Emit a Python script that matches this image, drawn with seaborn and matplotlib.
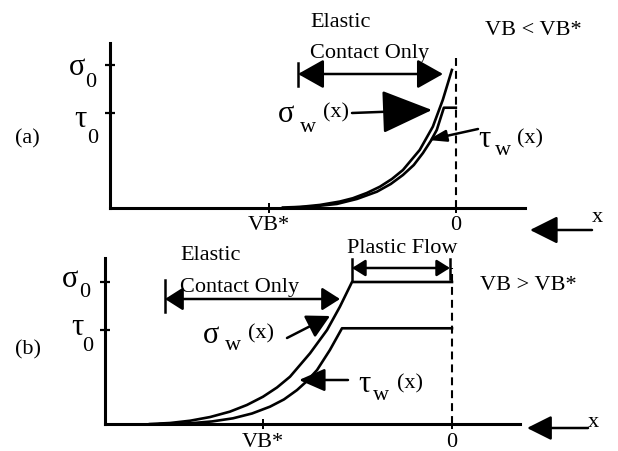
import numpy as np
import pandas as pd
import seaborn as sns
import matplotlib.pyplot as plt
from matplotlib.lines import Line2D

# x in units of VB* (0 = tool tip), y in units of sigma0
# (a) VB < VB*
a_sig_x = [-0.925, -0.834, -0.727, -0.620, -0.551, -0.476, -0.406, -0.342, -0.283, -0.193, -0.123, -0.070, -0.021]
a_sig_y = [0.0, 0.004, 0.018, 0.042, 0.065, 0.102, 0.146, 0.200, 0.263, 0.404, 0.567, 0.754, 0.965]
a_tau_x = [-0.888, -0.781, -0.636, -0.529, -0.422, -0.348, -0.283, -0.225, -0.176, -0.134, -0.102, -0.064, 0.0]
a_tau_y = [0.0, 0.005, 0.025, 0.060, 0.111, 0.165, 0.228, 0.298, 0.382, 0.467, 0.544, 0.700, 0.700]

# (b) VB > VB*  -- elastic part then plastic plateau
b_sig_x = [-1.598, -1.492, -1.386, -1.280, -1.175, -1.085, -1.0, -0.926, -0.857, -0.751, -0.661, -0.593, -0.529, 0.0]
b_sig_y = [0.0, 0.007, 0.023, 0.049, 0.087, 0.134, 0.192, 0.257, 0.333, 0.498, 0.662, 0.826, 1.0, 1.0]
b_tau_x = [-1.545, -1.386, -1.270, -1.159, -1.058, -0.963, -0.889, -0.820, -0.767, -0.714, -0.646, -0.582, 0.0]
b_tau_y = [0.0, 0.005, 0.018, 0.040, 0.074, 0.122, 0.173, 0.239, 0.303, 0.380, 0.521, 0.674, 0.674]

sigma0 = 1.0
tau0 = 0.665
x_ticks = [-1.0, 0.0]
x_labels = ["VB*", "0"]

W, H = 618, 451
plt.rcParams['font.family'] = ['Liberation Serif', 'DejaVu Serif']
fig = plt.figure(figsize=(W / 100, H / 100), dpi=100)

def fp(px, py):
    return (px / W, 1 - py / H)

def put(s, px, py, size=16):
    fig.text(px / W, 1 - py / H, s, fontsize=size, ha='left', va='baseline')

def arrow(ax, tail, tip, style='-|>', hl=1.5, hw=0.7, lw=1.8):
    ax.annotate("", xy=fp(*tip), xytext=fp(*tail), xycoords='figure fraction',
                textcoords='figure fraction',
                arrowprops=dict(arrowstyle=f"{style},head_length={hl},head_width={hw}",
                                color='black', lw=lw, shrinkA=0, shrinkB=0,
                                mutation_scale=10))

def bar(px, py0, py1, lw=1.8):
    fig.add_artist(Line2D([px / W, px / W], [1 - py0 / H, 1 - py1 / H],
                          transform=fig.transFigure, color='black', lw=lw))

def panel(rect, xlim, ylim):
    ax = fig.add_axes(rect)
    ax.set_xlim(*xlim)
    ax.set_ylim(*ylim)
    for s in ['top', 'right']:
        ax.spines[s].set_visible(False)
    for s in ['left', 'bottom']:
        ax.spines[s].set_linewidth(2.2)
        ax.spines[s].set_color('black')
    ax.set_xticks(x_ticks)
    ax.set_xticklabels(x_labels, fontsize=16)
    ax.set_yticks([tau0, sigma0])
    ax.set_yticklabels([])
    ax.tick_params(axis='x', direction='inout', length=6.5, width=1.4, pad=3, colors='black')
    ax.tick_params(axis='y', direction='inout', length=7.2, width=1.6, colors='black')
    ax.patch.set_alpha(0)
    return ax

# ---- panel (a)
ax1 = panel([110 / W, 1 - 207.5 / H, 415 / W, 164.5 / H], (-1.85, 0.37), (0, 1.154))
sns.lineplot(x=a_sig_x, y=a_sig_y, ax=ax1, color='black', lw=1.9, sort=False, estimator=None)
sns.lineplot(x=a_tau_x, y=a_tau_y, ax=ax1, color='black', lw=1.9, sort=False, estimator=None)
ax1.axvline(0, ymin=0, ymax=0.94, color='black', lw=1.5, ls=(0, (3.8, 2.4)))
ax1.set_xlabel("")
ax1.set_ylabel("")

# ---- panel (b)
ax2 = panel([105 / W, 1 - 424 / H, 415 / W, 166 / H], (-1.836, 0.36), (0, 1.169))
sns.lineplot(x=b_sig_x, y=b_sig_y, ax=ax2, color='black', lw=1.9, sort=False, estimator=None)
sns.lineplot(x=b_tau_x, y=b_tau_y, ax=ax2, color='black', lw=1.9, sort=False, estimator=None)
ax2.axvline(0, ymin=0, ymax=0.94, color='black', lw=1.5, ls=(0, (3.8, 2.4)))
ax2.set_xlabel("")
ax2.set_ylabel("")

# ---- labels (a)
put("(a)", 15, 143)
put("σ", 69, 75, 22)
put("0", 85, 87)
put("τ", 74, 127, 22)
put("0", 87, 143)
put("Elastic", 310, 27)
put("Contact Only", 310, 58)
put("VB < VB*", 485, 35)
put("σ", 278, 122, 22)
put("w", 300, 132)
put("(x)", 323, 117)
put("τ", 478, 147, 22)
put("w", 495, 155)
put("(x)", 517, 143)
put("x", 592, 222)

bar(298, 63, 86)
arrow(ax1, (298, 74), (443, 74), '<|-|>', 1.6, 0.9)
arrow(ax1, (352, 113), (432, 110), '-|>', 3.2, 1.37)
arrow(ax1, (478, 129), (428, 140), '-|>', 1.1, 0.35)
arrow(ax1, (592, 230), (530, 230), '-|>', 1.7, 0.85)

# ---- labels (b)
put("(b)", 15, 354)
put("σ", 62, 287, 22)
put("0", 79, 297)
put("τ", 71, 335, 22)
put("0", 82, 351)
put("Elastic", 180, 260)
put("Contact Only", 180, 292)
put("Plastic Flow", 347, 253)
put("VB > VB*", 480, 290)
put("σ", 203, 343, 22)
put("w", 225, 350)
put("(x)", 248, 338)
put("τ", 358, 392, 22)
put("w", 373, 400)
put("(x)", 397, 388)
put("x", 588, 427)

bar(165, 280, 312)
arrow(ax2, (165, 299), (340, 299), '<|-|>', 1.1, 0.7)
bar(352, 259, 281)
bar(450, 259, 279)
arrow(ax2, (352, 268), (450, 268), '<|-|>', 0.8, 0.5)
arrow(ax2, (287, 338), (330, 316), '-|>', 1.4, 0.75)
arrow(ax2, (348, 380), (299, 380), '-|>', 1.6, 0.7)
arrow(ax2, (588, 428), (527, 428), '-|>', 1.5, 0.75)

fig.savefig("out.png", dpi=100)
